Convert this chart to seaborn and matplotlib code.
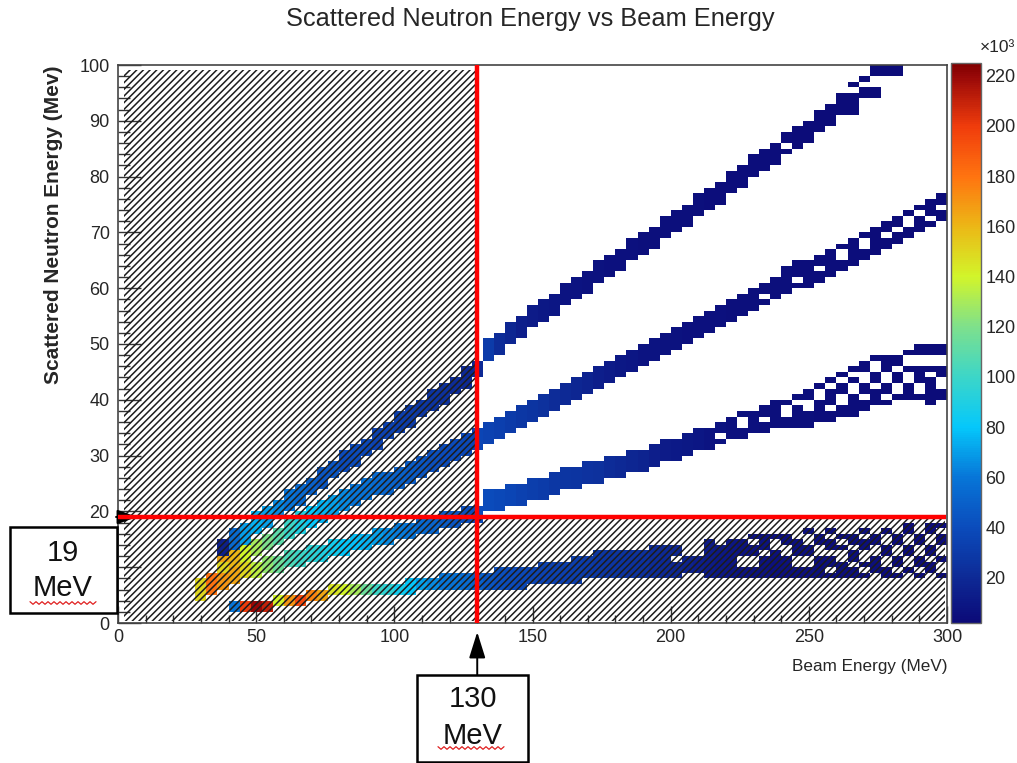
import numpy as np
import pandas as pd
import matplotlib
matplotlib.use("Agg")
import matplotlib.pyplot as plt
import seaborn as sns
from matplotlib.colors import LinearSegmentedColormap
from matplotlib.patches import Rectangle
from matplotlib.lines import Line2D
from matplotlib.ticker import MultipleLocator

# ---------------------------------------------------------------------------
# Histogram content: four kinematic bands.  For every beam-energy column the
# lowest / highest occupied neutron-energy bin (MeV) and the counts per cell
# (in units of 10^3).  Empty cells inside a band are listed as (beam, bin).
# ---------------------------------------------------------------------------
band_a_beam = [38, 42, 46, 50, 54, 58, 62, 66, 70, 74, 78, 82, 86, 90, 94, 98, 102, 106, 110, 114,
               118, 122, 126, 130, 134, 138, 142, 146, 150, 154, 158, 162, 166, 170, 174, 178, 182,
               186, 190, 194, 198, 202, 206, 210, 214, 218, 222, 226, 230, 234, 238, 242, 246, 250,
               254, 258, 262, 266, 270, 274, 278, 282]
band_a_low = [11, 13, 14, 16, 17, 19, 20, 21, 23, 24, 26, 27, 28, 30, 31, 33, 34, 35, 37, 38,
              39, 41, 42, 44, 47, 48, 50, 51, 53, 54, 55, 57, 58, 59, 61, 62, 63, 65, 66, 67,
              69, 70, 71, 73, 74, 75, 77, 78, 80, 81, 82, 84, 85, 86, 88, 89, 91, 91, 94, 94,
              98, 98]
band_a_high = [15, 17, 18, 20, 21, 22, 24, 25, 26, 28, 29, 31, 32, 33, 35, 36, 38, 39, 40, 42,
               43, 44, 46, 47, 51, 52, 54, 55, 57, 58, 59, 61, 62, 63, 65, 66, 67, 69, 70, 71,
               73, 74, 75, 77, 78, 79, 81, 82, 84, 85, 86, 88, 89, 90, 92, 93, 95, 97, 98, 100,
               100, 100]
band_a_counts = [15, 55, 70, 75, 70, 65, 60, 55, 50, 45, 45, 40, 40, 38, 35, 35, 32, 30, 28, 26,
                 24, 22, 20, 20, 30, 22, 18, 14, 12, 10, 9, 8, 8, 7, 7, 6, 6, 6, 5, 5,
                 5, 5, 5, 5, 4, 4, 4, 4, 4, 4, 4, 4, 3, 3, 3, 3, 3, 3, 3, 3,
                 3, 3]
band_a_gaps = [(242, 85), (266, 95), (270, 96), (274, 96), (274, 97)]

band_b_beam = [38, 42, 46, 50, 54, 58, 62, 66, 70, 74, 78, 82, 86, 90, 94, 98, 102, 106, 110, 114,
               118, 122, 126, 130, 134, 138, 142, 146, 150, 154, 158, 162, 166, 170, 174, 178, 182,
               186, 190, 194, 198, 202, 206, 210, 214, 218, 222, 226, 230, 234, 238, 242, 246, 250,
               254, 258, 262, 266, 270, 274, 278, 282, 286, 290, 294, 298]
band_b_low = [9, 10, 11, 12, 13, 14, 15, 16, 17, 18, 19, 20, 21, 22, 23, 23, 24, 25, 26, 27,
              28, 29, 30, 31, 32, 33, 34, 35, 36, 37, 38, 39, 40, 41, 42, 43, 44, 45, 46, 47,
              48, 49, 50, 51, 52, 53, 54, 55, 56, 57, 58, 59, 60, 60, 61, 62, 63, 64, 65, 66,
              67, 68, 69, 70, 71, 72]
band_b_high = [12, 13, 14, 15, 16, 17, 19, 20, 21, 22, 23, 24, 25, 26, 27, 27, 28, 29, 30, 31,
               32, 33, 34, 35, 36, 37, 38, 39, 40, 41, 42, 43, 44, 45, 46, 47, 48, 49, 50, 51,
               52, 53, 54, 55, 56, 57, 58, 59, 60, 61, 62, 64, 65, 65, 66, 67, 68, 69, 70, 71,
               72, 73, 74, 75, 76, 77]
band_b_counts = [150, 160, 140, 130, 120, 110, 100, 90, 80, 75, 70, 65, 60, 58, 55, 52, 50, 48, 45, 42,
                 40, 40, 38, 36, 35, 33, 30, 28, 26, 24, 22, 20, 18, 16, 14, 12, 10, 9, 8, 8,
                 7, 7, 6, 6, 6, 6, 5, 5, 5, 5, 5, 5, 4, 4, 4, 4, 4, 4, 4, 3,
                 3, 3, 3, 3, 3, 3]
band_b_gaps = [(234, 58), (246, 61), (254, 63), (262, 65), (262, 66), (270, 67), (270, 68),
               (278, 69), (282, 70), (286, 71), (286, 72), (290, 73), (294, 72), (298, 74)]

band_c_beam = [30, 34, 38, 42, 46, 50, 54, 58, 62, 66, 70, 74, 78, 82, 86, 90, 94, 98, 102, 106,
               110, 114, 118, 122, 126, 130, 134, 138, 142, 146, 150, 154, 158, 162, 166, 170,
               174, 178, 182, 186, 190, 194, 198, 202, 206, 210, 214, 218, 222, 226, 230, 234,
               238, 242, 246, 250, 254, 258, 262, 266, 270, 274, 278, 282, 286, 290, 294, 298]
band_c_low = [4, 5, 6, 7, 8, 8, 9, 9, 10, 10, 11, 11, 12, 12, 13, 13, 14, 14, 15, 15,
              16, 16, 17, 17, 18, 18, 20, 20, 21, 21, 22, 22, 23, 24, 24, 25, 25, 26, 26, 27,
              27, 28, 29, 29, 30, 31, 31, 32, 33, 33, 34, 34, 35, 35, 35, 35, 36, 36, 37, 37,
              38, 39, 39, 40, 40, 40, 39, 40]
band_c_high = [8, 9, 9, 10, 11, 11, 12, 12, 13, 13, 14, 14, 15, 15, 16, 16, 17, 17, 18, 18,
               19, 19, 20, 20, 21, 21, 24, 24, 25, 25, 26, 26, 27, 28, 28, 29, 29, 30, 30, 31,
               31, 32, 33, 33, 34, 35, 35, 36, 37, 38, 38, 39, 40, 40, 41, 42, 43, 44, 45, 46,
               47, 48, 48, 48, 49, 50, 50, 50]
band_c_counts = [150, 180, 170, 165, 150, 135, 125, 115, 105, 100, 95, 90, 85, 80, 78, 75, 70, 65, 62, 60,
                 55, 52, 48, 45, 42, 40, 40, 38, 36, 34, 32, 30, 28, 27, 26, 25, 24, 22, 20, 18,
                 16, 14, 12, 11, 10, 9, 8, 8, 6, 6, 6, 5, 5, 5, 5, 5, 4, 4, 4, 4,
                 4, 4, 3, 3, 3, 3, 3, 3]
band_c_gaps = [(218, 33), (226, 35), (226, 36), (234, 36), (242, 37), (242, 38), (246, 39),
               (250, 38), (250, 39), (254, 40), (254, 41), (258, 38), (258, 42), (262, 39),
               (262, 40), (262, 43), (266, 41), (266, 42), (266, 44), (270, 40), (270, 43),
               (270, 44), (274, 42), (274, 45), (274, 46), (278, 40), (278, 43), (278, 44),
               (282, 41), (282, 42), (282, 45), (286, 43), (286, 44), (286, 46), (286, 47),
               (290, 41), (290, 42), (290, 46), (290, 47), (294, 44), (294, 46), (294, 47),
               (298, 42), (298, 43), (298, 46), (298, 47)]

band_d_beam = [42, 46, 50, 54, 58, 62, 66, 70, 74, 78, 82, 86, 90, 94, 98, 102, 106, 110, 114,
               118, 122, 126, 130, 134, 138, 142, 146, 150, 154, 158, 162, 166, 170, 174, 178,
               182, 186, 190, 194, 198, 202, 206, 210, 214, 218, 222, 226, 230, 234, 238, 242,
               246, 250, 254, 258, 262, 266, 270, 274, 278, 282, 286, 290, 294, 298]
band_d_low = [2, 2, 2, 2, 3, 3, 3, 4, 4, 5, 5, 5, 5, 5, 5, 5, 5, 6, 6, 6,
              6, 6, 6, 6, 6, 6, 6, 7, 7, 7, 7, 7, 8, 8, 8, 8, 8, 8, 8, 8,
              8, 9, 9, 8, 8, 8, 8, 8, 8, 8, 8, 8, 8, 8, 8, 8, 8, 8, 8, 8,
              8, 8, 8, 8, 8]
band_d_high = [4, 4, 4, 4, 5, 5, 5, 6, 6, 7, 7, 7, 7, 7, 7, 7, 8, 8, 8, 9,
               9, 9, 9, 9, 10, 10, 10, 10, 11, 11, 11, 12, 12, 13, 13, 13, 13, 13, 14, 14,
               14, 14, 14, 15, 15, 15, 15, 16, 16, 16, 16, 16, 17, 17, 17, 17, 17, 17, 17, 17,
               18, 18, 18, 18, 18]
band_d_counts = [60, 200, 220, 210, 140, 170, 195, 175, 165, 145, 140, 130, 115, 100, 95, 85, 80, 70, 65, 60,
                 58, 55, 50, 45, 42, 40, 38, 36, 35, 34, 33, 32, 30, 28, 27, 26, 25, 24, 22, 20,
                 18, 16, 14, 12, 10, 9, 8, 7, 7, 6, 6, 6, 6, 5, 5, 5, 5, 5, 5, 4,
                 4, 4, 4, 4, 4]
band_d_gaps = [(202, 11), (206, 12), (206, 13), (210, 12), (210, 13), (218, 14), (226, 10), (226, 11),
               (230, 10), (230, 11), (230, 14), (234, 12), (238, 13), (238, 14), (242, 12), (242, 13),
               (246, 10), (246, 11), (246, 15), (250, 10), (250, 11), (250, 14), (250, 15), (254, 12),
               (254, 13), (254, 16), (258, 9), (258, 12), (258, 15), (262, 11), (262, 12), (262, 14),
               (262, 16), (266, 10), (266, 13), (266, 16), (270, 9), (270, 11), (270, 12), (270, 15),
               (274, 8), (274, 12), (274, 13), (274, 16), (278, 10), (278, 11), (278, 14), (278, 15),
               (282, 9), (282, 12), (282, 13), (282, 16), (282, 17), (286, 8), (286, 10), (286, 11),
               (286, 14), (286, 15), (290, 9), (290, 12), (290, 13), (290, 16), (290, 17), (294, 8),
               (294, 11), (294, 14), (294, 15), (298, 9), (298, 10), (298, 12), (298, 13), (298, 16)]

# Cut values marked on the plot
beam_cut = 130      # MeV
energy_cut = 19     # MeV

colorbar_ticks = [20, 40, 60, 80, 100, 120, 140, 160, 180, 200, 220]


def band_cells(beam, low, high, counts, gaps):
    empty = set(gaps)
    rows = []
    for x, lo, hi, n in zip(beam, low, high, counts):
        for y in range(lo, hi):
            if (x, y) not in empty:
                rows.append((x, y + 0.5, n))
    return rows


rows = (band_cells(band_a_beam, band_a_low, band_a_high, band_a_counts, band_a_gaps)
        + band_cells(band_b_beam, band_b_low, band_b_high, band_b_counts, band_b_gaps)
        + band_cells(band_c_beam, band_c_low, band_c_high, band_c_counts, band_c_gaps)
        + band_cells(band_d_beam, band_d_low, band_d_high, band_d_counts, band_d_gaps))
cells = pd.DataFrame(rows, columns=["beam", "neutron", "counts"])

# ---------------------------------------------------------------------------
sns.set_theme(style="white")
plt.rcParams["font.family"] = ["Liberation Sans", "DejaVu Sans"]
plt.rcParams["hatch.linewidth"] = 1.1

W, H = 1017, 763
fig = plt.figure(figsize=(W / 100, H / 100), dpi=100)
fig.patch.set_facecolor("white")


def fx(px):
    return px / W


def fy(py):
    return 1 - py / H


ax = fig.add_axes([fx(118), fy(623), fx(947) - fx(118), fy(65) - fy(623)])
cax = fig.add_axes([fx(951), fy(623), fx(981) - fx(951), fy(63) - fy(623)])

rainbow = LinearSegmentedColormap.from_list("rainbow_root", [
    (0.000, "#0c0a78"), (0.081, "#0d2a96"), (0.170, "#0b4cbc"), (0.260, "#0776d8"),
    (0.350, "#05c8fb"), (0.439, "#3cd6c8"), (0.529, "#7ee08c"), (0.619, "#d2f52a"),
    (0.709, "#ecb716"), (0.798, "#ff7410"), (0.888, "#f03c0c"), (0.978, "#980808"),
    (1.000, "#800000")])

sns.histplot(data=cells, x="beam", y="neutron", weights="counts",
             bins=[np.arange(0, 301, 4), np.arange(0, 101, 1)],
             cmap=rainbow, cbar=True, cbar_ax=cax, ax=ax)
mesh = ax.collections[0]
mesh.set_clim(2, 225)

ax.set_xlim(0, 300)
ax.set_ylim(0, 100)
ax.set_facecolor("white")

# Excluded regions (hatched) and the cut lines
hatch_kw = dict(fill=False, hatch="/////", edgecolor="#1c1c1c", linewidth=0, zorder=3)
ax.add_patch(Rectangle((2, 0.3), beam_cut - 2, 98.8, **hatch_kw))
ax.add_patch(Rectangle((beam_cut, 0.3), 299.4 - beam_cut, energy_cut - 0.3, **hatch_kw))
ax.axvline(beam_cut, color="#ff0000", lw=3.2, zorder=4)
ax.hlines(energy_cut, 0, 299.5, color="#ff0000", lw=3.2, zorder=4)

# Axes styling
for s in ax.spines.values():
    s.set_color("#444444")
    s.set_linewidth(1.2)
ax.xaxis.set_major_locator(MultipleLocator(50))
ax.xaxis.set_minor_locator(MultipleLocator(10))
ax.yaxis.set_major_locator(MultipleLocator(10))
ax.yaxis.set_minor_locator(MultipleLocator(2))
ax.tick_params(axis="x", which="major", direction="in", length=12, width=1, color="#333333",
               labelsize=13, pad=4, bottom=True, top=False)
ax.tick_params(axis="x", which="minor", direction="in", length=6, width=1, color="#333333",
               bottom=True, top=False)
ax.tick_params(axis="y", which="major", direction="in", length=16.5, width=1, color="#333333",
               labelsize=13, pad=6, left=True, right=False)
ax.tick_params(axis="y", which="minor", direction="in", length=8.5, width=1, color="#333333",
               left=True, right=False)

ax.set_xlabel("Beam Energy (MeV)", loc="right", fontsize=12.3, labelpad=10)
ax.set_ylabel("Scattered Neutron Energy (Mev)", loc="top", fontsize=15,
              fontweight="bold", labelpad=12)

fig.text(fx(530), fy(19), "Scattered Neutron Energy vs Beam Energy",
         ha="center", va="center", fontsize=18.3)

# Colour scale
cbar = mesh.colorbar
cbar.set_ticks(colorbar_ticks)
cbar.outline.set_edgecolor("#666666")
cbar.outline.set_linewidth(1)
cax.tick_params(axis="y", direction="in", length=18, width=1.2, color="#222222",
                labelsize=13, pad=3, right=True, left=False)
cax.minorticks_off()
fig.text(fx(997), fy(48), "×10³", ha="center", va="center", fontsize=12.5)

# Call-out boxes for the two cuts
box_kw = dict(transform=fig.transFigure, facecolor="white", edgecolor="black", lw=1.8)
fig.add_artist(Rectangle((fx(10), fy(613)), fx(117) - fx(10), fy(527) - fy(613), **box_kw))
fig.add_artist(Rectangle((fx(417), fy(762)), fx(528) - fx(417), fy(675) - fy(762), **box_kw))

txt_kw = dict(ha="center", va="center", fontsize=21, color="#111111")
fig.text(fx(63), fy(553), f"{energy_cut}", **txt_kw)
fig.text(fx(63), fy(588), "MeV", **txt_kw)
fig.text(fx(473), fy(699), f"{beam_cut}", **txt_kw)
fig.text(fx(473), fy(736), "MeV", **txt_kw)

# Spell-check style squiggles under the unit labels
for x0, x1, y0 in [(30, 97, 603), (438, 505, 748)]:
    xs = np.arange(x0, x1 + 1, 3)
    ys = y0 + np.where(np.arange(len(xs)) % 2 == 0, -1.3, 1.3)
    fig.add_artist(Line2D(fx(xs), fy(ys), transform=fig.transFigure, color="#e02020", lw=0.9))

arrow_kw = dict(color="black", lw=1.4, shrinkA=0, shrinkB=0)
ax.annotate("", xy=(137, energy_cut), xycoords=("figure pixels", "data"),
            xytext=(116, energy_cut), textcoords=("figure pixels", "data"),
            arrowprops=dict(arrowstyle="-|>,head_length=0.6,head_width=0.22",
                            mutation_scale=20, **arrow_kw), annotation_clip=False)
ax.annotate("", xy=(beam_cut, H - 632), xycoords=("data", "figure pixels"),
            xytext=(beam_cut, H - 675), textcoords=("data", "figure pixels"),
            arrowprops=dict(arrowstyle="-|>,head_length=0.8,head_width=0.25",
                            mutation_scale=20, **arrow_kw), annotation_clip=False)

fig.savefig("out.png", dpi=100)
